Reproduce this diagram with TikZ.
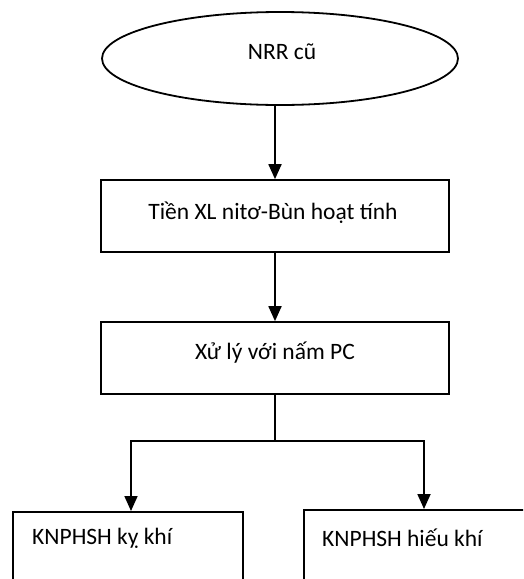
\documentclass[tikz,border=0pt]{standalone}
\usepackage{fontspec}
\setmainfont{Carlito}
\usetikzlibrary{arrows.meta,shapes.geometric}
\begin{document}
\begin{tikzpicture}[x=1pt,y=-1pt,
  font=\fontsize{23.5}{27}\selectfont,
  arr/.style={line width=1.8pt,-{Triangle[length=15pt,width=13pt]}},
  conn/.style={line width=1.8pt},
  boxst/.style={draw,line width=1.7pt,rectangle,inner sep=0pt},
  ellst/.style={draw,line width=1.8pt,ellipse,inner sep=0pt,minimum width=356pt,minimum height=93pt},
  lbl/.style={inner sep=0pt}]
\useasboundingbox (0,0) rectangle (523,579);
\clip (0,0) rectangle (523,579);
\node[ellst] (ell) at (280,58.5) {};
\node[lbl] (tell) at (282,52) {NRR cũ};
\node[boxst,minimum width=348pt,minimum height=72pt] (b1) at (275,216) {};
\node[lbl] (tb1) at (273,213) {Tiền XL nitơ-Bùn hoạt tính};
\node[boxst,minimum width=348pt,minimum height=72pt] (b2) at (275,358) {};
\node[lbl] (tb2) at (275,353) {Xử lý với nấm PC};
\node[boxst,anchor=north west,minimum width=230pt,minimum height=90pt] (b3) at (12,511) {};
\node[lbl,anchor=west] (tb3) at (32,538) {KNPHSH kỵ khí};
\node[boxst,anchor=north west,minimum width=240pt,minimum height=90pt] (b4) at (303,509) {};
\node[lbl,anchor=west] (tb4) at (322,538) {KNPHSH hiếu khí};
\coordinate (jl) at (131,441);
\coordinate (jr) at (424,441);
\draw[arr] (b1.north |- ell.south) -- (b1.north);
\draw[arr] (b1.south) -- (b2.north);
\draw[conn] (b2.south) -- (b2.south |- jl);
\draw[arr] (jl) -- (jl |- b3.north);
\draw[arr] (jr) -- (jr |- b4.north);
\draw[conn,line cap=rect] (jl) -- (jr);
\end{tikzpicture}
\end{document}
